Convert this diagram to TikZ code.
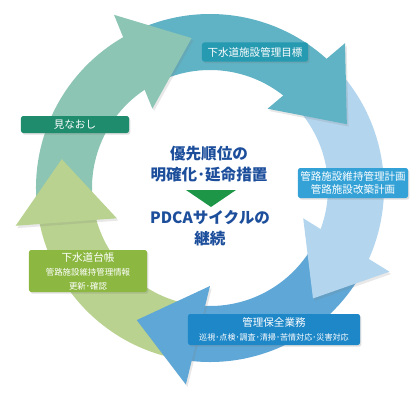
\documentclass[tikz,border=0pt]{standalone}
\usepackage{fontspec}
\setmainfont{Noto Sans CJK JP}
\definecolor{seaGreen}{RGB}{140,197,179}
\definecolor{ringTeal}{RGB}{96,178,197}
\definecolor{paleBlue}{RGB}{179,213,238}
\definecolor{midBlue}{RGB}{94,167,214}
\definecolor{paleGreen}{RGB}{185,210,143}
\definecolor{boxTeal}{RGB}{38,154,177}
\definecolor{boxSky}{RGB}{52,162,215}
\definecolor{boxBlue}{RGB}{30,135,200}
\definecolor{boxGreen}{RGB}{140,184,66}
\definecolor{boxDark}{RGB}{32,140,110}
\definecolor{titleNavy}{RGB}{28,78,155}
\definecolor{markGreen}{RGB}{30,150,72}
\usepackage{tikz}
\usetikzlibrary{shadows}

\tikzset{
  headshade/.style={drop shadow={opacity=.18, shadow xshift=.5mm, shadow yshift=-.7mm}},
  labelbox/.style={rounded corners=2pt, text=white, inner sep=0pt, align=center,
    drop shadow={opacity=.25, shadow xshift=.4mm, shadow yshift=-.5mm}},
  title/.style={text=titleNavy, align=center, font=\fontsize{13.3}{17.9}\selectfont\bfseries}
}

\begin{document}
\begin{tikzpicture}[x=0.03cm, y=0.03cm]
      \useasboundingbox (-210,-227) rectangle (209,188);
      % Ring bodies
      \fill[seaGreen] (118:118) arc[start angle=118, end angle=190, radius=118]
        -- (190:174) arc[start angle=190, end angle=118, radius=174] -- cycle;
      \fill[ringTeal] (46:118) arc[start angle=46, end angle=118, radius=118]
        -- (118:174) arc[start angle=118, end angle=46, radius=174] -- cycle;
      \fill[paleBlue] (-26:118) arc[start angle=-26, end angle=46, radius=118]
        -- (46:174) arc[start angle=46, end angle=-26, radius=174] -- cycle;
      \fill[midBlue] (-98:118) arc[start angle=-98, end angle=-26, radius=118]
        -- (-26:174) arc[start angle=-26, end angle=-98, radius=174] -- cycle;
      \fill[paleGreen] (190:118) arc[start angle=190, end angle=262, radius=118]
        -- (262:174) arc[start angle=262, end angle=190, radius=174] -- cycle;
      % Arrow heads
      \fill[seaGreen, headshade] (97:151) -- (119:198) -- (126:98) -- cycle;
      \fill[ringTeal, headshade] (25:151) -- (47:198) -- (54:98) -- cycle;
      \fill[paleBlue, headshade] (-47:151) -- (-25:198) -- (-18:98) -- cycle;
      \fill[midBlue, headshade] (-119:151) -- (-97:198) -- (-90:98) -- cycle;
      \fill[paleGreen, headshade] (169:151) -- (191:198) -- (198:98) -- cycle;
      % Labels
      \node[labelbox, fill=boxTeal, minimum width=3.18cm, minimum height=0.57cm,
            font=\fontsize{9}{11}\selectfont]
        (mokuhyo) at (45,136) {下水道施設管理目標};
      \node[labelbox, fill=boxSky, minimum width=3.3cm, minimum height=0.9cm,
            font=\fontsize{9}{11}\selectfont]
        (keikaku) at (143,5) {管路施設維持管理計画\\管路施設改築計画};
      \node[labelbox, fill=boxBlue, minimum width=5.16cm, minimum height=0.93cm]
        (gyomu) at (64,-141.5)
        {{\fontsize{9}{11}\selectfont 管理保全業務}\\
         {\fontsize{6.9}{8.5}\selectfont 巡視･点検･調査･清掃･苦情対応･災害対応}};
      \node[labelbox, fill=boxGreen, minimum width=3.54cm, minimum height=1.26cm]
        (daicho) at (-122,-83)
        {{\fontsize{9}{10.5}\selectfont 下水道台帳}\\
         {\fontsize{7.2}{9.2}\selectfont 管路施設維持管理情報}\\
         {\fontsize{7.2}{9.2}\selectfont 更新･確認}};
      \node[labelbox, fill=boxDark, minimum width=3.24cm, minimum height=0.51cm,
            font=\fontsize{9}{11}\selectfont]
        (minaoshi) at (-135,63.5) {見なおし};
      % Centre
      \node[title] (yusen) at (-1,23.5) {優先順位の\\明確化･延命措置};
      \fill[markGreen] (-24,-2) -- (26,-2) -- (1,-19) -- cycle;
      \node[title] (pdca) at (0,-40) {PDCAサイクルの\\継続};
    \end{tikzpicture}
\end{document}
